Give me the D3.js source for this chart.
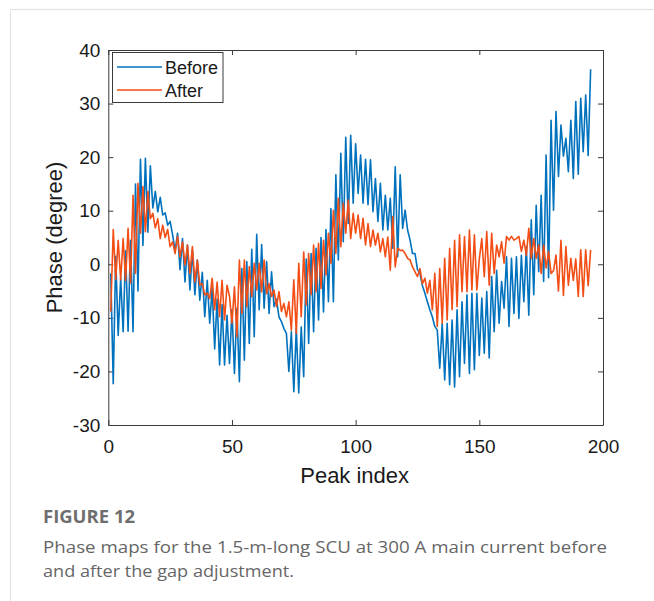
<!DOCTYPE html>
<html><head><meta charset="utf-8">
<script src="https://cdn.jsdelivr.net/npm/d3@7"></script>
<style>body{margin:0;background:#fff}</style>
</head><body><svg id="c" width="654" height="601"></svg>
<script>
// Phase (degree) per peak index
const before = [
-1.7,-22.3,1.5,-13.3,-2.5,-12.6,2.5,-12.5,4.5,-12.6,
15,-5,19.6,3.5,19.8,6,18.4,10.5,13.6,9.8,
12.5,9.2,9.6,7.3,8,5.5,2.5,5.8,-1,4.8,
-3.3,3.6,-4.8,2.7,-5.7,0.8,-6.7,-1.5,-9.8,-3,
-11,-4.5,-15.8,-6.5,-18.8,-7.5,-18.8,-9.5,-18.5,-8.5,
-20.4,-8.2,-21.9,-0.8,-17.9,0.5,-14.8,2.8,-13.5,5.6,
-8.5,3.7,-8.2,0.5,-9.2,-1.4,-7.9,-6.5,-9.8,-10.7,
-12,-12.9,-20,-12.6,-23.8,-12,-24,-11.7,-21,1,
-14.8,2,-12.6,3,-10.4,5,-8.9,6.5,-7,10.4,
-7,16.7,0.8,20.7,4.2,23.7,7.6,24.1,11.4,22.5,
13.2,20.4,11.4,19.6,11.1,19.5,9.8,16,8,15.1,
6.4,12.9,6.4,12.3,3,18.2,1.4,16.7,6.7,10.1,
6.4,4.5,2,2,-1,-1.7,-4,-5.4,-7,-8.5,
-9.8,-11.6,-12.3,-19.4,-11,-21.6,-11,-22.5,-10.4,-22.9,
-8.5,-21,-7,-18.5,-5.7,-20.4,-5.4,-19.7,-5.4,-17,
-6.3,-16.6,-5.1,-17.5,-2.3,-12.6,-1.1,-11,-3.2,-8.2,
1.4,-11.6,1.1,-9.2,1.4,-10.1,1.7,-7,3.3,-9.5,
8.3,-5.7,11,-1.4,12.9,-3.2,20.4,-2.5,26.9,10.1,
28.5,16.4,26,20.2,23.5,17.3,26.9,16,30.4,16.8,
31,21,31.6,20.3,36.4
];
const after = [
-8.8,6.5,-2.9,4.5,-2.9,4.8,-3,6.7,-3.5,12.9,
-1.7,15.1,5.8,14.5,6.1,13.6,8.5,9.5,6.8,8.5,
4.8,7.3,5,6.5,3.3,4.2,2,5.2,1.4,4.2,
-0.1,3.6,-1.7,3.3,-3.3,0.8,-3.9,-3.6,-5.7,-5.4,
-6.4,-2.6,-8.5,-3.3,-9.8,-3,-10.4,-3.9,-6,-11,
-4.2,-13.5,0.8,-9.2,0.8,-7.9,-0.4,-6,0.2,-4.8,
0.2,-5.1,0.8,-5.5,-3.6,-6,-4.8,-7.9,-5.1,-8.8,
-7.3,-9.8,-7,-12.3,-2.9,-12.9,0.2,-9.8,2.3,-7.6,
2,-5.7,3.6,-5.1,3.9,-4.5,4.5,-2,5.8,0.2,
10.1,2,12.3,3.3,11.4,5.8,12,4.8,9.5,5.8,
9.2,4.8,8.6,3.6,7.6,3.3,6.4,3.6,5.8,2.3,
4.8,1.4,5.1,-1.1,8.9,-0.5,3,2.6,2.6,2,
1.1,0.8,-0.5,-1.4,-2.3,-0.8,-3.6,-2.6,-5.4,-3,
-8.5,-1.7,-11.6,-0.8,-11,1.1,-10.4,3,-8.5,4.5,
-7.9,5.5,-5.1,5.2,-5.1,6.4,-4.8,5.5,-4.8,1,
4.8,-2.3,6.1,-3.9,5.8,-1.7,3.6,1.4,4.2,0.2,
5.2,4.5,5.2,4.5,4.8,5.2,2.4,4.5,1.7,6.7,
1.1,4.8,1.1,3.6,-1.7,3.6,-0.7,2.4,-1.7,-1.2,
1.7,-5,4.5,-5.8,3.3,-3.9,1.1,-3,1,-6,
2.7,-6,2.7,-4,2.7
];
const seriesNames = ["Before", "After"];
const xTicks = [0, 50, 100, 150, 200];
const yTicks = [-30, -20, -10, 0, 10, 20, 30, 40];
const captionTitle = "FIGURE 12";
const captionLines = ["Phase maps for the 1.5-m-long SCU at 300 A main current before",
                      "and after the gap adjustment."];

const colors = {Before: "#0072BD", After: "#F24E16"};
const svg = d3.select("#c");
const L = 108.3, R = 603, T = 50, B = 425;
const x = d3.scaleLinear([0, 200], [L, R]);
const y = d3.scaleLinear([-30, 40], [B, T]);
const fmt = d => String(d); // plain hyphen-minus as in the figure

// outer frame
svg.append("rect").attr("x", 10.5).attr("y", 9.5).attr("width", 700).attr("height", 700)
  .attr("fill", "none").attr("stroke", "#e3e3e3").attr("stroke-width", 1.2);

const axColor = "#3a3a3a";
const font = "'Liberation Sans', Arial, sans-serif";
function styleAxis(g) {
  g.select(".domain").attr("stroke", axColor);
  g.selectAll(".tick line").attr("stroke", axColor);
  g.selectAll(".tick text").attr("fill", "#1a1a1a").style("font-family", font).style("font-size", "19px");
}
svg.append("g").attr("transform", `translate(0,${B})`)
  .call(d3.axisBottom(x).tickValues(xTicks).tickFormat(fmt).tickSize(-5).tickSizeOuter(0).tickPadding(15)).call(styleAxis);
svg.append("g").attr("transform", `translate(0,${T})`)
  .call(d3.axisTop(x).tickValues(xTicks).tickSize(-5).tickSizeOuter(0).tickFormat("")).call(styleAxis);
svg.append("g").attr("transform", `translate(${L},0)`)
  .call(d3.axisLeft(y).tickValues(yTicks).tickFormat(fmt).tickSize(-5).tickSizeOuter(0).tickPadding(8)).call(styleAxis);
svg.append("g").attr("transform", `translate(${R},0)`)
  .call(d3.axisRight(y).tickValues(yTicks).tickSize(-5).tickSizeOuter(0).tickFormat("")).call(styleAxis);

const line = d3.line().x((d, i) => x(i + 1)).y(d => y(d));
svg.append("path").datum(before).attr("d", line).attr("fill", "none")
  .attr("stroke", colors.Before).attr("stroke-width", 1.6).attr("stroke-linejoin", "round");
svg.append("path").datum(after).attr("d", line).attr("fill", "none")
  .attr("stroke", colors.After).attr("stroke-width", 1.6).attr("stroke-linejoin", "round");

// axis titles
svg.append("text").attr("x", (L + R) / 2 - 1).attr("y", 483).attr("text-anchor", "middle")
  .style("font-family", font).style("font-size", "22px").attr("fill", "#1a1a1a").text("Peak index");
svg.append("text").attr("transform", `translate(62,${(T + B) / 2}) rotate(-90)`).attr("text-anchor", "middle")
  .style("font-family", font).style("font-size", "22px").attr("fill", "#1a1a1a").text("Phase (degree)");

// legend
const lg = svg.append("g");
lg.append("rect").attr("x", 112.5).attr("y", 52.5).attr("width", 110.5).attr("height", 50)
  .attr("fill", "#fff").attr("stroke", axColor).attr("stroke-width", 1);
seriesNames.forEach((n, i) => {
  const yy = 67 + i * 23;
  lg.append("line").attr("x1", 117).attr("x2", 162).attr("y1", yy).attr("y2", yy)
    .attr("stroke", colors[n]).attr("stroke-width", 1.6);
  lg.append("text").attr("x", 165).attr("y", yy + 6.5).style("font-family", font).style("font-size", "18px")
    .attr("fill", "#1a1a1a").text(n);
});

// caption
svg.append("text").attr("x", 43).attr("y", 523).attr("textLength", 92).attr("lengthAdjust", "spacingAndGlyphs")
  .style("font-family", "'Open Sans', sans-serif").style("font-weight", "700").style("font-size", "18px")
  .attr("fill", "#6e6e6e").text(captionTitle);
svg.append("text").attr("x", 43).attr("y", 553).attr("textLength", 564).attr("lengthAdjust", "spacingAndGlyphs")
  .style("font-family", "'Open Sans', sans-serif").style("font-size", "17px").attr("fill", "#666").text(captionLines[0]);
svg.append("text").attr("x", 43).attr("y", 577).attr("textLength", 251).attr("lengthAdjust", "spacingAndGlyphs")
  .style("font-family", "'Open Sans', sans-serif").style("font-size", "17px").attr("fill", "#666").text(captionLines[1]);
</script></body></html>
